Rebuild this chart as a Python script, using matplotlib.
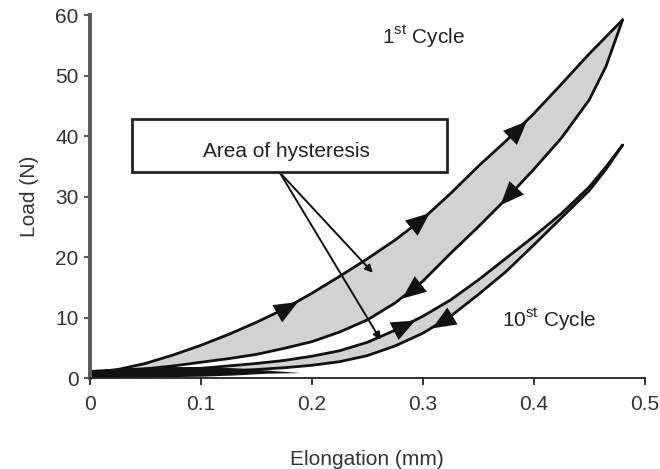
import numpy as np
import matplotlib
matplotlib.use("Agg")
import matplotlib.pyplot as plt
from matplotlib.markers import MarkerStyle
from matplotlib.transforms import Affine2D
from matplotlib.patches import Rectangle

plt.rcParams['font.family'] = ['Liberation Sans', 'DejaVu Sans']
plt.rcParams['mathtext.fontset'] = 'custom'
plt.rcParams['mathtext.rm'] = 'Liberation Sans'

# elongation (mm) shared by all branches
elong = [0, 0.025, 0.05, 0.075, 0.1, 0.125, 0.15, 0.175, 0.2, 0.225, 0.25,
         0.275, 0.3, 0.325, 0.35, 0.375, 0.4, 0.425, 0.45, 0.465, 0.48]

# load (N), 1st cycle
load1_up = [0.8, 1.4, 2.4, 3.8, 5.4, 7.2, 9.2, 11.4, 14.0, 16.8, 19.7,
            22.8, 26.3, 30.5, 35.0, 39.2, 43.7, 48.6, 53.6, 56.4, 59.2]
load1_down = [0.8, 1.0, 1.5, 2.0, 2.6, 3.2, 3.9, 4.9, 6.0, 7.6, 9.6,
              12.4, 16.0, 20.6, 25.0, 29.6, 34.5, 39.7, 46.0, 51.5, 59.2]

# load (N), 10th cycle
load10_up = [0.7, 0.8, 0.9, 1.2, 1.6, 2.0, 2.4, 2.9, 3.6, 4.5, 5.9,
             7.9, 10.2, 12.9, 16.2, 19.8, 23.4, 27.2, 31.6, 34.9, 38.5]
load10_down = [0.6, 0.6, 0.7, 0.8, 1.0, 1.2, 1.4, 1.7, 2.1, 2.7, 3.7,
               5.3, 7.4, 10.2, 13.8, 17.6, 22.0, 26.5, 31.0, 34.5, 38.5]

# dark smudge where the branches bunch up near the origin
smudge_x = [0, 0.03, 0.06, 0.1, 0.13, 0.16, 0.19]
smudge_top = [1.4, 1.7, 1.9, 1.9, 1.7, 1.3, 0.9]
smudge_bot = [0.0, 0.1, 0.2, 0.3, 0.5, 0.8, 0.9]

# where the direction arrows sit on each branch
arrows1_up = [0.177, 0.297, 0.385]
arrows1_down = [0.29, 0.378]
arrows10_up = [0.282]
arrows10_down = [0.318]

fig = plt.figure(figsize=(6.6, 4.69), dpi=100)
ax = fig.add_axes([0.136, 0.194, 0.841, 0.774])
ax.set_xlim(0, 0.5)
ax.set_ylim(0, 60)

band = '#d2d2d2'
ax.fill_between(elong, load1_down, load1_up, color=band, lw=0)
ax.fill_between(elong, load10_down, load10_up, color=band, lw=0)

for ys in (load1_up, load1_down, load10_up, load10_down):
    ax.plot(elong, ys, color='#111111', lw=2.0, solid_capstyle='round',
            solid_joinstyle='round', clip_on=False)

ax.fill_between(smudge_x, smudge_bot, smudge_top, color='#111111', lw=0)

# triangle pointing right, rotated to follow the curve
head = [(1.0, 0.0), (-0.8, 0.75), (-0.8, -0.75), (1.0, 0.0)]


def draw_arrows(xs, ys, where, sign):
    for x0 in where:
        y0 = np.interp(x0, xs, ys)
        y1 = np.interp(x0 + 0.005, xs, ys)
        p0 = ax.transData.transform((x0, y0))
        p1 = ax.transData.transform((x0 + 0.005, y1))
        ang = np.degrees(np.arctan2(p1[1] - p0[1], p1[0] - p0[0]))
        if sign < 0:
            ang += 180
        m = MarkerStyle(head, transform=Affine2D().rotate_deg(ang))
        ax.plot([x0], [y0], marker=m, markersize=19, color='#111111',
                markeredgewidth=0, linestyle='none')


draw_arrows(elong, load1_up, arrows1_up, 1)
draw_arrows(elong, load1_down, arrows1_down, -1)
draw_arrows(elong, load10_up, arrows10_up, 1)
draw_arrows(elong, load10_down, arrows10_down, -1)

# label box and pointers
ax.add_patch(Rectangle((0.038, 34.0), 0.284, 8.8, facecolor='white',
                       edgecolor='#222222', lw=2.0, zorder=4))
ax.text(0.177, 37.4, 'Area of hysteresis', ha='center', va='center',
        fontsize=15, color='#222222', zorder=5)
for tip in [(0.255, 17.4), (0.262, 6.3)]:
    ax.annotate('', xy=tip, xytext=(0.171, 34.0),
                arrowprops=dict(arrowstyle='-|>', lw=1.4, color='#111111',
                                mutation_scale=11, shrinkA=0, shrinkB=0))

ax.text(0.263, 56.4, r'1$^{\rm st}$ Cycle', fontsize=15, color='#222222', va='center')
ax.text(0.371, 9.6, r'10$^{\rm st}$ Cycle', fontsize=15, color='#222222', va='center')

for side in ('top', 'right'):
    ax.spines[side].set_visible(False)
ax.spines['left'].set_color('#5a5a5a')
ax.spines['left'].set_linewidth(2.8)
ax.spines['bottom'].set_color('#222222')
ax.spines['bottom'].set_linewidth(1.3)

ax.set_xticks([0, 0.1, 0.2, 0.3, 0.4, 0.5])
ax.set_xticklabels(['0', '0.1', '0.2', '0.3', '0.4', '0.5'])
ax.set_yticks(range(0, 61, 10))
ax.tick_params(axis='x', length=5, width=1.3, color='#222222', labelsize=15,
               labelcolor='#333333', pad=7)
ax.tick_params(axis='y', length=4, width=1.5, color='#5a5a5a', labelsize=15,
               labelcolor='#333333', pad=4)

ax.set_xlabel('Elongation (mm)', fontsize=15, color='#333333', labelpad=26)
ax.set_ylabel('Load (N)', fontsize=15, color='#333333', labelpad=12)

fig.savefig('out.png', dpi=100)
